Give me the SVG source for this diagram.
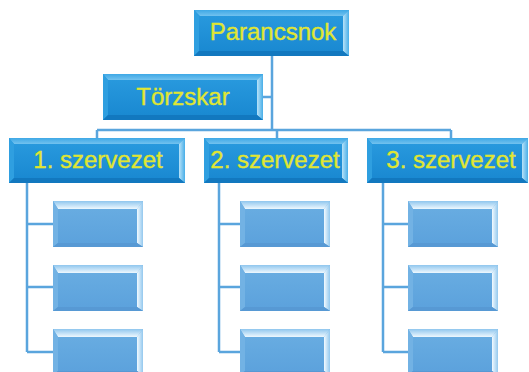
<svg xmlns="http://www.w3.org/2000/svg" width="529" height="372" viewBox="0 0 529 372">
  <defs>
    <linearGradient id="gMain" x1="0" y1="0" x2="0" y2="1">
      <stop offset="0" stop-color="#2a9bdf"/>
      <stop offset="1" stop-color="#1887d0"/>
    </linearGradient>
    <linearGradient id="gMainTop" x1="0" y1="0" x2="0" y2="1">
      <stop offset="0" stop-color="#3ea8e6"/>
      <stop offset="1" stop-color="#72c2ef"/>
    </linearGradient>
    <linearGradient id="gMainRight" x1="0" y1="0" x2="1" y2="0">
      <stop offset="0" stop-color="#b8e2f8"/>
      <stop offset="1" stop-color="#48aee8"/>
    </linearGradient>
    <linearGradient id="gSub" x1="0" y1="0" x2="0" y2="1">
      <stop offset="0" stop-color="#6aaee2"/>
      <stop offset="1" stop-color="#5ba1dc"/>
    </linearGradient>
    <linearGradient id="gSubTop" x1="0" y1="0" x2="0" y2="1">
      <stop offset="0" stop-color="#8fc6ee"/>
      <stop offset="1" stop-color="#eef8fe"/>
    </linearGradient>
    <linearGradient id="gSubRight" x1="0" y1="0" x2="1" y2="0">
      <stop offset="0" stop-color="#f2faff"/>
      <stop offset="1" stop-color="#93c8ee"/>
    </linearGradient>
  </defs>
  <style>
    .conn { fill: none; stroke: #5aa5dd; stroke-width: 2.5; }
    .m-base { fill: url(#gMain); }
    .m-top { fill: url(#gMainTop); }
    .m-left { fill: #2f9fe0; }
    .m-right { fill: url(#gMainRight); }
    .m-bot { fill: #1278bf; }
    .s-base { fill: url(#gSub); }
    .s-top { fill: url(#gSubTop); }
    .s-left { fill: #72b2e4; }
    .s-right { fill: url(#gSubRight); }
    .s-bot { fill: #5799d4; }
    .lbl { font-family: "Liberation Sans", Arial, sans-serif; font-size: 24px; fill: #e0e632; stroke: #e0e632; stroke-width: 0.35; text-anchor: middle; }
  </style>

  <!-- connectors -->
  <g id="connectors">
    <path class="conn" d="M272,56 V130 M263,97 H272 M97,130 H451 M97,130 V138 M277,130 V138 M451,130 V138"/>
    <path class="conn" d="M27,183 V352 M27,224 H53 M27,287 H53 M27,352 H53"/>
    <path class="conn" d="M219,183 V352 M219,224 H240 M219,287 H240 M219,352 H240"/>
    <path class="conn" d="M383,183 V352 M383,224 H408 M383,287 H408 M383,352 H408"/>
  </g>

  <!-- top level -->
  <g id="parancsnok">
    <rect class="m-base" x="194" y="10" width="155" height="46"/>
    <path class="m-top" d="M194,10 h155 l-6,6 h-143 z"/>
    <path class="m-left" d="M194,10 l5,6 v35 l-5,5 z"/>
    <path class="m-right" d="M349,10 v46 l-6,-5 v-35 z"/>
    <path class="m-bot" d="M194,56 h155 l-6,-5 h-144 z"/>
    <text class="lbl" x="273" y="40">Parancsnok</text>
  </g>
  <g id="torzskar">
    <rect class="m-base" x="103" y="74" width="160" height="46"/>
    <path class="m-top" d="M103,74 h160 l-6,6 h-149 z"/>
    <path class="m-left" d="M103,74 l5,6 v35 l-5,5 z"/>
    <path class="m-right" d="M263,74 v46 l-6,-5 v-35 z"/>
    <path class="m-bot" d="M103,120 h160 l-6,-5 h-149 z"/>
    <text class="lbl" x="183" y="105">Törzskar</text>
  </g>
  <g id="szervezet-1">
    <rect class="m-base" x="9" y="138" width="176" height="45"/>
    <path class="m-top" d="M9,138 h176 l-6,6 h-165 z"/>
    <path class="m-left" d="M9,138 l5,6 v34 l-5,5 z"/>
    <path class="m-right" d="M185,138 v45 l-6,-5 v-34 z"/>
    <path class="m-bot" d="M9,183 h176 l-6,-5 h-165 z"/>
    <text class="lbl" x="98" y="168">1. szervezet</text>
  </g>
  <g id="szervezet-2">
    <rect class="m-base" x="204" y="138" width="144" height="45"/>
    <path class="m-top" d="M204,138 h144 l-6,6 h-133 z"/>
    <path class="m-left" d="M204,138 l5,6 v34 l-5,5 z"/>
    <path class="m-right" d="M348,138 v45 l-6,-5 v-34 z"/>
    <path class="m-bot" d="M204,183 h144 l-6,-5 h-133 z"/>
    <text class="lbl" x="275" y="168">2. szervezet</text>
  </g>
  <g id="szervezet-3">
    <rect class="m-base" x="367" y="138" width="161" height="45"/>
    <path class="m-top" d="M367,138 h161 l-6,6 h-150 z"/>
    <path class="m-left" d="M367,138 l5,6 v34 l-5,5 z"/>
    <path class="m-right" d="M528,138 v45 l-6,-5 v-34 z"/>
    <path class="m-bot" d="M367,183 h161 l-6,-5 h-150 z"/>
    <text class="lbl" x="451" y="168">3. szervezet</text>
  </g>

  <!-- units, column 1 -->
  <g id="unit-1-1">
    <rect class="s-base" x="53" y="201" width="90" height="46"/>
    <path class="s-top" d="M53,201 h90 l-6,8 h-79 z"/>
    <path class="s-left" d="M53,201 l5,8 v34 l-5,4 z"/>
    <path class="s-right" d="M143,201 v46 l-6,-4 v-34 z"/>
    <path class="s-bot" d="M53,247 h90 l-6,-4 h-79 z"/>
  </g>
  <g id="unit-1-2">
    <rect class="s-base" x="53" y="265" width="90" height="46"/>
    <path class="s-top" d="M53,265 h90 l-6,8 h-79 z"/>
    <path class="s-left" d="M53,265 l5,8 v34 l-5,4 z"/>
    <path class="s-right" d="M143,265 v46 l-6,-4 v-34 z"/>
    <path class="s-bot" d="M53,311 h90 l-6,-4 h-79 z"/>
  </g>
  <g id="unit-1-3">
    <rect class="s-base" x="53" y="329" width="90" height="46"/>
    <path class="s-top" d="M53,329 h90 l-6,8 h-79 z"/>
    <path class="s-left" d="M53,329 l5,8 v34 l-5,4 z"/>
    <path class="s-right" d="M143,329 v46 l-6,-4 v-34 z"/>
    <path class="s-bot" d="M53,375 h90 l-6,-4 h-79 z"/>
  </g>

  <!-- units, column 2 -->
  <g id="unit-2-1">
    <rect class="s-base" x="240" y="201" width="90" height="46"/>
    <path class="s-top" d="M240,201 h90 l-6,8 h-79 z"/>
    <path class="s-left" d="M240,201 l5,8 v34 l-5,4 z"/>
    <path class="s-right" d="M330,201 v46 l-6,-4 v-34 z"/>
    <path class="s-bot" d="M240,247 h90 l-6,-4 h-79 z"/>
  </g>
  <g id="unit-2-2">
    <rect class="s-base" x="240" y="265" width="90" height="46"/>
    <path class="s-top" d="M240,265 h90 l-6,8 h-79 z"/>
    <path class="s-left" d="M240,265 l5,8 v34 l-5,4 z"/>
    <path class="s-right" d="M330,265 v46 l-6,-4 v-34 z"/>
    <path class="s-bot" d="M240,311 h90 l-6,-4 h-79 z"/>
  </g>
  <g id="unit-2-3">
    <rect class="s-base" x="240" y="329" width="90" height="46"/>
    <path class="s-top" d="M240,329 h90 l-6,8 h-79 z"/>
    <path class="s-left" d="M240,329 l5,8 v34 l-5,4 z"/>
    <path class="s-right" d="M330,329 v46 l-6,-4 v-34 z"/>
    <path class="s-bot" d="M240,375 h90 l-6,-4 h-79 z"/>
  </g>

  <!-- units, column 3 -->
  <g id="unit-3-1">
    <rect class="s-base" x="408" y="201" width="90" height="46"/>
    <path class="s-top" d="M408,201 h90 l-6,8 h-79 z"/>
    <path class="s-left" d="M408,201 l5,8 v34 l-5,4 z"/>
    <path class="s-right" d="M498,201 v46 l-6,-4 v-34 z"/>
    <path class="s-bot" d="M408,247 h90 l-6,-4 h-79 z"/>
  </g>
  <g id="unit-3-2">
    <rect class="s-base" x="408" y="265" width="90" height="46"/>
    <path class="s-top" d="M408,265 h90 l-6,8 h-79 z"/>
    <path class="s-left" d="M408,265 l5,8 v34 l-5,4 z"/>
    <path class="s-right" d="M498,265 v46 l-6,-4 v-34 z"/>
    <path class="s-bot" d="M408,311 h90 l-6,-4 h-79 z"/>
  </g>
  <g id="unit-3-3">
    <rect class="s-base" x="408" y="329" width="90" height="46"/>
    <path class="s-top" d="M408,329 h90 l-6,8 h-79 z"/>
    <path class="s-left" d="M408,329 l5,8 v34 l-5,4 z"/>
    <path class="s-right" d="M498,329 v46 l-6,-4 v-34 z"/>
    <path class="s-bot" d="M408,375 h90 l-6,-4 h-79 z"/>
  </g>
</svg>
